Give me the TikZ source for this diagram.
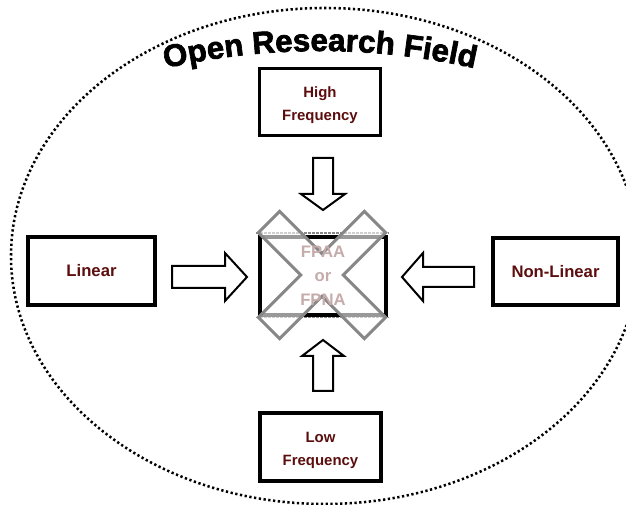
\documentclass[tikz,border=0pt]{standalone}
\usepackage{fontspec}
\setmainfont{Liberation Sans}
\newfontfamily\titlefont[FakeBold=2.2]{Liberation Sans Bold}
\usetikzlibrary{decorations.text}
\definecolor{maroon}{RGB}{92,14,14}
\definecolor{xgray}{RGB}{135,135,135}
\tikzset{
  box/.style={draw=black, line width=2.3pt, fill=white, inner sep=0pt},
  boxtext/.style={inner sep=0pt, align=center, text=maroon},
  barrow/.style={draw=black, line width=1.5pt, fill=white, line join=miter},
  dotline/.style={draw=black, line width=1.9pt, dash pattern=on 1.7pt off 1.9pt},
}
\begin{document}
\begin{tikzpicture}[x=0.75pt, y=-0.75pt]
\useasboundingbox (0,0) rectangle (626,505);
\clip (0,0) rectangle (626,505);
% outer dotted ellipse
\draw[dotline] (325,256) ellipse [x radius=235.5pt, y radius=186pt];
% title along arc
\path[decorate, decoration={text along path, text align=center,
  text={|\titlefont\fontsize{23.5}{28}\selectfont|Open Research Field}}]
  ([shift={(110:525pt)}]320,751) arc[start angle=110, end angle=70, radius=525pt];
% boxes
\node[box, minimum width=90.75pt, minimum height=50.25pt] (high) at (320,102) {};
\node[boxtext, font=\bfseries\fontsize{11.2}{17}\selectfont] (hightext)
  at ([yshift=-2.4pt]high.center) {High\\Frequency};
\node[box, minimum width=90.75pt, minimum height=51pt] (low) at (320.5,447) {};
\node[boxtext, font=\bfseries\fontsize{11.2}{17}\selectfont] (lowtext)
  at ([yshift=-2.4pt]low.center) {Low\\Frequency};
\node[box, minimum width=95.25pt, minimum height=51pt] (lin) at (91.5,271) {};
\node[boxtext, font=\bfseries\fontsize{12.5}{15}\selectfont] (lintext) at (lin.center) {Linear};
\node[box, minimum width=93.75pt, minimum height=50.25pt] (nonlin) at (555.5,271.5) {};
\node[boxtext, font=\bfseries\fontsize{12.5}{15}\selectfont] (nonlintext) at (nonlin.center) {Non-Linear};
\node[box, minimum width=94.5pt, minimum height=58.5pt] (core) at (323,276) {};
% block arrows
\draw[barrow] (172,266) -- (225,266) -- (225,253) -- (247,277) -- (225,301) -- (225,288) -- (172,288) -- cycle;
\draw[barrow] (474,267) -- (423,267) -- (423,253) -- (402,277) -- (423,301) -- (423,287) -- (474,287) -- cycle;
\draw[barrow] (313,158) -- (333,158) -- (333,194) -- (345,194) -- (323,210) -- (301,194) -- (313,194) -- cycle;
\draw[barrow] (313,391) -- (333,391) -- (333,356) -- (344,356) -- (323,340) -- (302,356) -- (313,356) -- cycle;
% dashed frame lines of the crossed-out element
\draw[xgray, line width=1.2pt, dash pattern=on 2pt off 1pt] (256,233) -- (389,233);
\draw[xgray, line width=1.2pt, dash pattern=on 2pt off 1pt] (256,317.5) -- (389,317.5);
% big X
\draw[xgray, line width=2.3pt, fill=white, fill opacity=0.6, line join=miter]
  (258.36,232.58) -- (279.58,211.36) -- (322,253.79) -- (364.42,211.36) -- (385.64,232.58)
  -- (343.21,275) -- (385.64,317.42) -- (364.42,338.64) -- (322,296.21) -- (279.58,338.64)
  -- (258.36,317.42) -- (300.79,275) -- cycle;
% faded label
\node[boxtext, text=maroon!35, font=\bfseries\fontsize{12.5}{18}\selectfont] (corelabel)
  at (core.center) {FPAA\\or\\FPNA};
\end{tikzpicture}
\end{document}
